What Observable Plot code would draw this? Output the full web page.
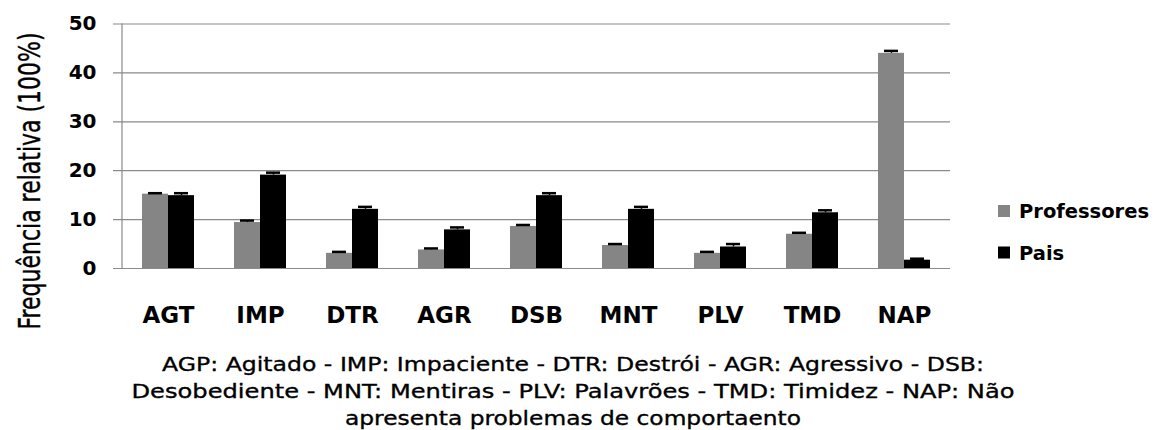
<!DOCTYPE html>
<html>
<head>
<meta charset="utf-8">
<script src="https://cdn.jsdelivr.net/npm/d3@7"></script>
<script src="https://cdn.jsdelivr.net/npm/@observablehq/plot@0.6"></script>
<style>
  html, body { margin: 0; padding: 0; background: #fff; }
  #chart svg { display: block; }
</style>
</head>
<body>
<div id="chart"></div>
<script>
const categories = ["AGT", "IMP", "DTR", "AGR", "DSB", "MNT", "PLV", "TMD", "NAP"];
const seriesNames = ["Professores", "Pais"];
const professores = [15.2, 9.4, 3.1, 3.8, 8.6, 4.7, 3.1, 7.0, 44.0];
const professoresErr = [0.2, 0.4, 0.3, 0.3, 0.3, 0.3, 0.3, 0.3, 0.5];
const pais = [14.9, 19.1, 12.1, 7.9, 14.9, 12.1, 4.4, 11.4, 1.7];
const paisErr = [0.5, 0.5, 0.5, 0.5, 0.5, 0.5, 0.6, 0.5, 0.3];
const yTicks = [0, 10, 20, 30, 40, 50];
const yLabel = "Frequência relativa (100%)";
const captionLines = [
  "AGP: Agitado - IMP: Impaciente - DTR: Destrói - AGR: Agressivo - DSB:",
  "Desobediente - MNT: Mentiras - PLV: Palavrões - TMD: Timidez - NAP: Não",
  "apresenta problemas de comportaento"
];

const colors = {Professores: "#858585", Pais: "#000000"};

const profRows = categories.map((c, i) => ({cat: c, value: professores[i], top: professores[i] + professoresErr[i]}));
const paisRows = categories.map((c, i) => ({cat: c, value: pais[i], top: pais[i] + paisErr[i]}));

const W = 1159, H = 430;
const mL = 122, mR = 209, mT = 23.5, mB = 162;

const plot = Plot.plot({
  width: W,
  height: H,
  marginLeft: mL,
  marginRight: mR,
  marginTop: mT,
  marginBottom: mB,
  style: {fontFamily: "DejaVu Sans", background: "#fff", overflow: "visible"},
  x: {type: "band", domain: categories, padding: 0, label: null},
  y: {domain: [0, 50], ticks: yTicks, label: null},
  marks: [
    Plot.ruleY(yTicks, {stroke: "#8a8a8a", strokeWidth: 1.2, insetLeft: -9}),
    Plot.barY(profRows, {x: "cat", y: "value", fill: colors.Professores, insetLeft: 20, insetRight: 46}),
    Plot.barY(paisRows, {x: "cat", y: "value", fill: colors.Pais, insetLeft: 46, insetRight: 20}),
    Plot.ruleX(profRows, {x: "cat", y1: "value", y2: "top", dx: -13, stroke: "#000", strokeWidth: 1.5}),
    Plot.ruleX(paisRows, {x: "cat", y1: "value", y2: "top", dx: 13, stroke: "#000", strokeWidth: 1.5}),
    Plot.tickY(profRows, {x: "cat", y: "top", insetLeft: 26, insetRight: 52, stroke: "#000", strokeWidth: 2.5}),
    Plot.tickY(paisRows, {x: "cat", y: "top", insetLeft: 52, insetRight: 26, stroke: "#000", strokeWidth: 2.5}),
    Plot.axisY(yTicks, {tickSize: 0, tickPadding: 26, fontSize: 20, fontWeight: "bold", fill: "#000", label: null}),
    Plot.axisX({tickSize: 0, tickPadding: 38, fontSize: 23, fontWeight: "bold", fill: "#000", label: null})
  ]
});

const svg = d3.select(plot);
const y = plot.scale("y");

// left axis line
svg.append("line")
  .attr("x1", mL).attr("x2", mL)
  .attr("y1", y.apply(0)).attr("y2", y.apply(50))
  .attr("stroke", "#8a8a8a").attr("stroke-width", 1.2);

// y axis title
svg.append("text")
  .attr("transform", `translate(40,181) rotate(-90) scale(1,1.35)`)
  .attr("text-anchor", "middle")
  .attr("font-family", "DejaVu Sans")
  .attr("font-size", 22)
  .attr("fill", "#000")
  .attr("stroke", "#000").attr("stroke-width", 0.3)
  .text(yLabel);

// legend
const legendY = [211, 252.5];
seriesNames.forEach((name, i) => {
  svg.append("rect")
    .attr("x", 998).attr("y", legendY[i] - 6)
    .attr("width", 12).attr("height", 12)
    .attr("fill", colors[name]);
  svg.append("text")
    .attr("x", 1019).attr("y", legendY[i])
    .attr("dy", "0.36em")
    .attr("text-anchor", "start")
    .attr("font-family", "DejaVu Sans")
    .attr("font-weight", "bold")
    .attr("font-size", 19.5)
    .attr("fill", "#000")
    .text(name);
});

// caption
const capWidths = [822, 883, 456];
const capBase = [371, 398, 425];
captionLines.forEach((line, i) => {
  svg.append("text")
    .attr("x", 573).attr("y", capBase[i])
    .attr("text-anchor", "middle")
    .attr("font-family", "DejaVu Sans")
    .attr("font-size", 20)
    .attr("fill", "#000")
    .attr("stroke", "#000").attr("stroke-width", 0.35)
    .attr("textLength", capWidths[i])
    .attr("lengthAdjust", "spacingAndGlyphs")
    .text(line);
});

document.getElementById("chart").appendChild(plot);
</script>
</body>
</html>
